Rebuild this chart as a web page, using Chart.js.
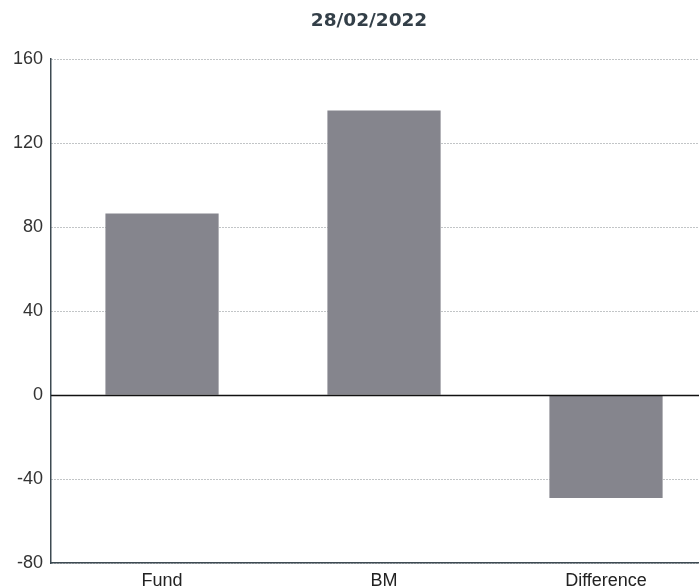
<!DOCTYPE html>
<html>
<head>
<meta charset="utf-8">
<script src="https://cdn.jsdelivr.net/npm/chart.js@4/dist/chart.umd.min.js"></script>
<style>
  html, body { margin: 0; padding: 0; overflow: hidden; background: #fff; }
  #wrap { width: 699px; height: 588px; overflow: hidden; }
</style>
</head>
<body>
<div id="wrap"><canvas id="perfChart" width="738" height="588"></canvas></div>
<script>
const categories = ['Fund', 'BM', 'Difference'];
const values = [86.5, 135.5, -49];
const yTicks = [-80, -40, 0, 40, 80, 120, 160];
const chartTitle = '28/02/2022';

// solid black line at zero, drawn from the y scale
const zeroLine = {
    id: 'zeroLine',
    afterDatasetsDraw(chart) {
        const { ctx, chartArea, scales } = chart;
        const y = Math.round(scales.y.getPixelForValue(0)) + 0.5;
        ctx.save();
        ctx.strokeStyle = '#111';
        ctx.lineWidth = 1.5;
        ctx.beginPath();
        ctx.moveTo(chartArea.left, y);
        ctx.lineTo(chartArea.right, y);
        ctx.stroke();
        ctx.restore();
    }
};

// title centred on the whole canvas, not on the padded box
const canvasTitle = {
    id: 'canvasTitle',
    afterDraw(chart) {
        const ctx = chart.ctx;
        ctx.save();
        ctx.fillStyle = '#333f48';
        ctx.font = 'bold 18.5px "DejaVu Sans"';
        ctx.textAlign = 'center';
        ctx.textBaseline = 'middle';
        ctx.fillText(chartTitle, chart.width / 2, 21);
        ctx.restore();
    }
};

function drawPerfChart(labels, data) {
    const ctx = document.getElementById('perfChart').getContext('2d');
    window.perfChart = new Chart(ctx, {
        type: 'bar',
        data: {
            labels: labels,
            datasets: [{
                data: data,
                backgroundColor: '#85858d',
                borderWidth: 0,
                categoryPercentage: 1,
                barPercentage: 0.51
            }]
        },
        plugins: [zeroLine, canvasTitle],
        options: {
            responsive: false,
            animation: false,
            layout: { padding: { left: 5, right: 21, top: 59, bottom: -11 } },
            plugins: {
                legend: { display: false },
                tooltip: { enabled: false },
                title: { display: false }
            },
            scales: {
                x: {
                    grid: { display: false, drawTicks: false },
                    border: { display: true, color: '#3d4a52', width: 1.5 },
                    ticks: {
                        color: '#222',
                        padding: 8,
                        font: { family: 'Liberation Sans', size: 18, lineHeight: 1.1 }
                    }
                },
                y: {
                    min: yTicks[0],
                    max: yTicks[yTicks.length - 1],
                    afterBuildTicks: axis => { axis.ticks = yTicks.map(v => ({ value: v })); },
                    grid: {
                        drawTicks: false,
                        color: '#858a8f',
                        lineWidth: 1
                    },
                    border: {
                        display: true,
                        color: '#3d4a52',
                        width: 1.5,
                        dash: [1, 2]
                    },
                    ticks: {
                        color: '#333',
                        padding: 8,
                        font: { family: 'Liberation Sans', size: 18 }
                    }
                }
            }
        }
    });
}

drawPerfChart(categories, values);
</script>
</body>
</html>
